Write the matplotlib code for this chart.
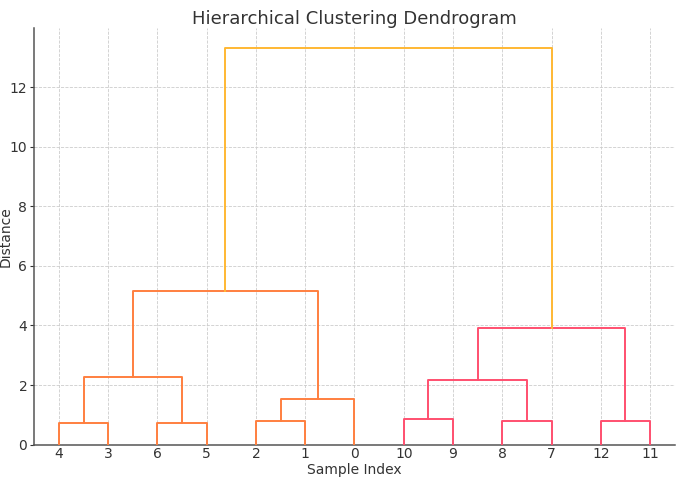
import matplotlib
matplotlib.use("Agg")
from matplotlib import pyplot as plt

# leaves in the order they appear along the x axis
leaf_order = [4, 3, 6, 5, 2, 1, 0, 10, 9, 8, 7, 12, 11]
n_leaves = 13

# merges: (cluster a, cluster b, distance); new cluster ids start at 13
merge_a = [4, 6, 2, 10, 8, 12, 13, 15, 16, 19, 21, 22]
merge_b = [3, 5, 1, 9, 7, 11, 14, 0, 17, 20, 18, 23]
merge_h = [0.74, 0.74, 0.78, 0.85, 0.78, 0.78, 2.28, 1.54, 2.17, 5.16, 3.93, 13.31]
merge_group = ["left", "left", "left", "right", "right", "right",
               "left", "left", "right", "left", "right", "root"]

colors = {"left": "#FF7F3F", "right": "#FF4F6F", "root": "#FFB833"}

pos = {leaf: 5 + 10 * i for i, leaf in enumerate(leaf_order)}
height = {leaf: 0.0 for leaf in leaf_order}

fig = plt.figure(figsize=(6.85, 4.86), dpi=100)
ax = fig.add_subplot(111)

for k, (a, b, h) in enumerate(zip(merge_a, merge_b, merge_h)):
    xa, xb = pos[a], pos[b]
    ax.plot([xa, xa, xb, xb], [height[a], h, h, height[b]],
            color=colors[merge_group[k]], lw=1.4, zorder=3)
    cid = n_leaves + k
    pos[cid] = (xa + xb) / 2
    height[cid] = h

ax.set_xlim(0, 10 * n_leaves)
ax.set_ylim(0, max(merge_h) * 1.05)
ax.set_xticks([pos[l] for l in leaf_order])
ax.set_xticklabels([str(l) for l in leaf_order])
ax.set_yticks([0, 2, 4, 6, 8, 10, 12])

ax.grid(True, linestyle="--", color="#cccccc", linewidth=0.6)
ax.set_axisbelow(True)
for s in ["top", "right"]:
    ax.spines[s].set_visible(False)
for s in ["left", "bottom"]:
    ax.spines[s].set_color("#555555")
    ax.spines[s].set_linewidth(1.1)
ax.tick_params(axis="x", length=0, pad=2, labelsize=10, colors="#333333")
ax.tick_params(axis="y", length=3, pad=2, labelsize=10, colors="#333333")

ax.set_title("Hierarchical Clustering Dendrogram", fontsize=13, color="#333333", pad=3)
ax.set_xlabel("Sample Index", fontsize=10, color="#333333", labelpad=1)
ax.set_ylabel("Distance", fontsize=10, color="#333333")
ax.yaxis.set_label_coords(-0.033, 0.5)

fig.subplots_adjust(left=0.05, right=0.985, bottom=0.085, top=0.942)
fig.savefig("out.png")
